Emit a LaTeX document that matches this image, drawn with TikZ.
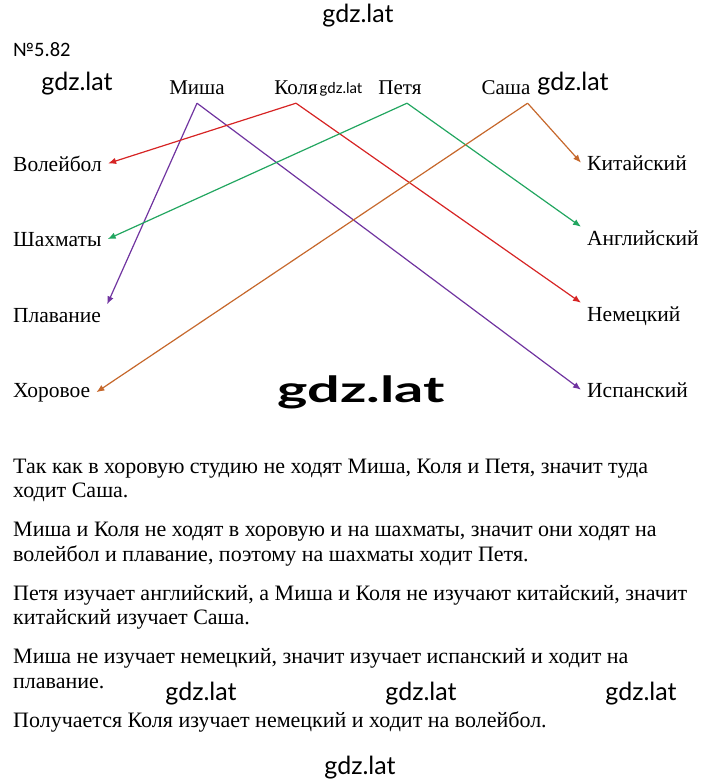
\documentclass[tikz,border=0pt]{standalone}
\usepackage{fontspec}
\setmainfont{Liberation Serif}
\newfontfamily\wmfont{Lato}
\newfontfamily\numfont{Carlito}
\usetikzlibrary{arrows.meta}

\definecolor{redline}{RGB}{214,36,36}
\definecolor{greenline}{RGB}{34,166,96}
\definecolor{purpleline}{RGB}{112,52,160}
\definecolor{brownline}{RGB}{198,104,44}

\begin{document}
\begin{tikzpicture}[x=1pt, y=-1pt,
    person/.style={font=\fontsize{21}{24}\selectfont, anchor=base, text depth=0pt, inner xsep=3pt, inner ysep=8pt},
    item/.style={font=\fontsize{21.5}{24}\selectfont, anchor=base west, inner xsep=6pt},
    link/.style={-{Latex[length=8pt,width=6.5pt]}, line width=1.2pt},
    wm/.style={font=\wmfont\fontsize{25}{28}\selectfont, inner sep=0pt}
]
\useasboundingbox (0,0) rectangle (720,781);

% Title
\node[font=\numfont\fontsize{20.5}{24}\selectfont, anchor=base west, inner sep=0pt] (title) at (13,57) {№5.82};

% Children
\node[person] (misha) at (197,95) {Миша};
\node[person] (kolya) at (296,95) {Коля};
\node[person] (petya) at (400,95) {Петя};
\node[person] (sasha) at (506,95) {Саша};

% Sections
\node[item] (volley) at (7,171) {Волейбол};
\node[item] (chess) at (7,246) {Шахматы};
\node[item] (swim) at (7,322) {Плавание};
\node[item] (choir) at (7,397) {Хоровое};

% Languages
\node[item] (chinese) at (581,170) {Китайский};
\node[item] (english) at (581,245) {Английский};
\node[item] (german) at (581,321) {Немецкий};
\node[item] (spanish) at (581,397) {Испанский};

% Links
\draw[link, purpleline] (misha.south) -- (swim.north east);
\draw[link, purpleline] (misha.south) -- (spanish.west);
\draw[link, redline] (kolya.south) -- (volley.east);
\draw[link, redline] (kolya.south) -- (german.north west);
\draw[link, greenline] ([xshift=7pt]petya.south) -- (chess.east);
\draw[link, greenline] ([xshift=7pt]petya.south) -- (english.north west);
\draw[link, brownline] ([xshift=-6pt]sasha.south east) -- (choir.east);
\draw[link, brownline] ([xshift=-6pt]sasha.south east) -- (chinese.west);

% Solution (base = last line)
\node[font=\fontsize{22}{24.5}\selectfont, anchor=base west, align=left, inner sep=0pt] (solution) at (13,727) {%
Так как в хоровую студию не ходят Миша, Коля и Петя, значит туда\\
ходит Саша.\\[14.5pt]
Миша и Коля не ходят в хоровую и на шахматы, значит они ходят на\\
волейбол и плавание, поэтому на шахматы ходит Петя.\\[14.5pt]
Петя изучает английский, а Миша и Коля не изучают китайский, значит\\
китайский изучает Саша.\\[14.5pt]
Миша не изучает немецкий, значит изучает испанский и ходит на\\
плавание.\\[14.5pt]
Получается Коля изучает немецкий и ходит на волейбол.};

% Watermarks
\node[wm] (wmtop) at (358,16) {gdz.lat};
\node[wm] (wmleft) at (77,84) {gdz.lat};
\node[wm] (wmright) at (573,84) {gdz.lat};
\node[wm, font=\wmfont\fontsize{15}{18}\selectfont] (wmsmall) at (341,89) {gdz.lat};
\node[wm, font=\wmfont\bfseries\fontsize{36}{40}\selectfont] (wmbig) at (361,392) {\scalebox{1.6}[1]{gdz.lat}};
\node[wm] (wmrow1) at (201,694) {gdz.lat};
\node[wm] (wmrow2) at (421,694) {gdz.lat};
\node[wm] (wmrow3) at (641,694) {gdz.lat};
\node[wm] (wmbottom) at (360,768) {gdz.lat};

\end{tikzpicture}
\end{document}
